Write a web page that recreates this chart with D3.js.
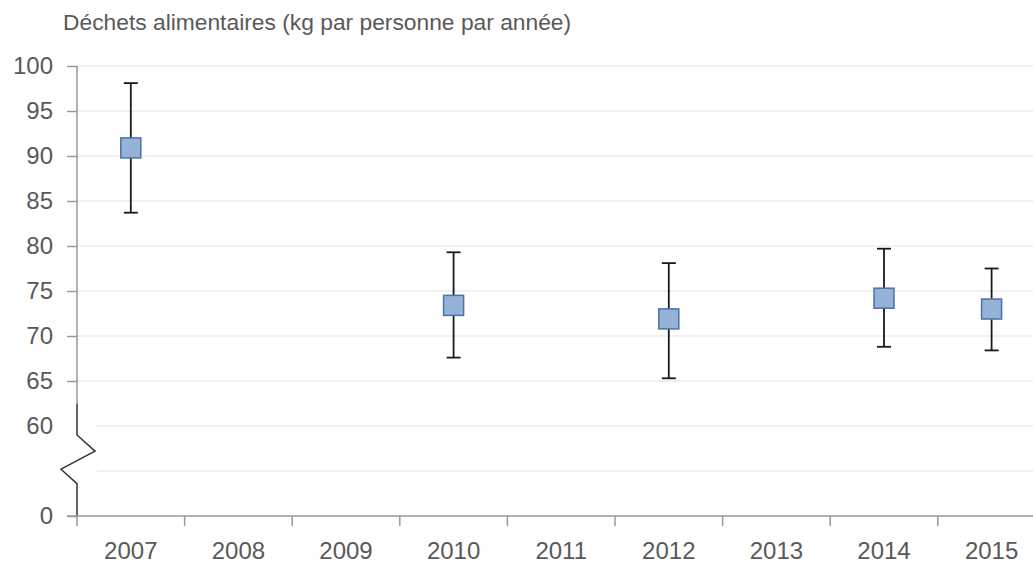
<!DOCTYPE html>
<html><head><meta charset="utf-8">
<script src="https://cdn.jsdelivr.net/npm/d3@7/dist/d3.min.js"></script>
<style>body{margin:0;background:#fff}svg{display:block}text{font-family:"Liberation Sans",Arial,sans-serif}</style>
</head><body><svg id="c" width="1033" height="563"></svg>
<script>
const title = "Déchets alimentaires (kg par personne par année)";
const years = ["2007","2008","2009","2010","2011","2012","2013","2014","2015"];
const pointYears = ["2007","2010","2012","2014","2015"];
const values = [90.9, 73.4, 71.9, 74.2, 73.0];
const upper = [98.1, 79.3, 78.1, 79.7, 77.5];
const lower = [83.7, 67.6, 65.3, 68.8, 68.4];
// axis is broken: the bottom position (internal value 50) is labelled 0
const tickValues = [50, 55, 60, 65, 70, 75, 80, 85, 90, 95, 100];
const tickLabels = ["0", "", "60", "65", "70", "75", "80", "85", "90", "95", "100"];

(function(){
const svg = d3.select("#c");
const left = 77, plotTop = 66, bottom = 516;
const x = d3.scaleBand().domain(years).range([left, left + 9*107.6]).padding(0);
const y = d3.scaleLinear().domain([50, 100]).range([bottom, plotTop]);

svg.append("text").attr("x", 63).attr("y", 30).attr("font-size", 22.8).attr("fill", "#595959").text(title);

// gridlines
svg.append("g").selectAll("line").data(tickValues.slice(1)).join("line")
  .attr("x1", d => d <= 60 ? left + 20 : left).attr("x2", 1033)
  .attr("y1", d => y(d)).attr("y2", d => y(d))
  .attr("stroke", "#ebebeb").attr("stroke-width", 1.5);

// y axis
const yAxis = d3.axisLeft(y).tickValues(tickValues).tickSize(10).tickPadding(14)
  .tickFormat((d, i) => tickLabels[i]);
const gy = svg.append("g").attr("transform", `translate(${left},0)`).call(yAxis);
gy.select(".domain").remove();
gy.selectAll(".tick line").attr("stroke", d => (d === 55 || d === 60) ? "none" : "#999").attr("stroke-width", 1.5);
gy.selectAll(".tick text").attr("font-size", 24).attr("fill", "#595959").attr("font-family", "Liberation Sans, Arial, sans-serif");

svg.append("line").attr("x1", left).attr("x2", left).attr("y1", y(100)).attr("y2", y(62.5))
  .attr("stroke", "#999").attr("stroke-width", 1.5);
const zz = [[0, 62.5], [0, 59], [18, 57.2], [-16, 55.2], [0, 53.6], [0, 50]];
svg.append("path").attr("d", d3.line().x(d => left + d[0]).y(d => y(d[1]))(zz))
  .attr("fill", "none").attr("stroke", "#333").attr("stroke-width", 1.5);

// x axis
svg.append("line").attr("x1", left - 10).attr("x2", 1033).attr("y1", bottom).attr("y2", bottom)
  .attr("stroke", "#999").attr("stroke-width", 1.5);
const xAxis = d3.axisBottom(x).tickSize(0).tickPadding(26);
const gx = svg.append("g").attr("transform", `translate(0,${bottom})`).call(xAxis);
gx.select(".domain").remove();
gx.selectAll(".tick text").attr("font-size", 24).attr("fill", "#595959").attr("font-family", "Liberation Sans, Arial, sans-serif");
svg.append("g").selectAll("line").data(years).join("line")
  .attr("x1", d => x(d)).attr("x2", d => x(d)).attr("y1", bottom).attr("y2", bottom + 10)
  .attr("stroke", "#999").attr("stroke-width", 1.5);

// error bars
const pts = pointYears.map((yr, i) => ({yr, v: values[i], hi: upper[i], lo: lower[i]}));
const cx = d => x(d.yr) + x.bandwidth()/2;
const g = svg.append("g");
g.selectAll("line.e").data(pts).join("line").attr("class", "e")
  .attr("x1", cx).attr("x2", cx).attr("y1", d => y(d.hi)).attr("y2", d => y(d.lo))
  .attr("stroke", "#1a1a1a").attr("stroke-width", 1.8);
["hi", "lo"].forEach(k => {
  g.selectAll("line." + k).data(pts).join("line").attr("class", k)
    .attr("x1", d => cx(d) - 7).attr("x2", d => cx(d) + 7)
    .attr("y1", d => y(d[k])).attr("y2", d => y(d[k]))
    .attr("stroke", "#1a1a1a").attr("stroke-width", 1.8);
});
g.selectAll("rect").data(pts).join("rect")
  .attr("x", d => cx(d) - 10).attr("y", d => y(d.v) - 10).attr("width", 20).attr("height", 20)
  .attr("fill", "#95b3d7").attr("stroke", "#4a72a8").attr("stroke-width", 1.5);
})();
</script></body></html>
